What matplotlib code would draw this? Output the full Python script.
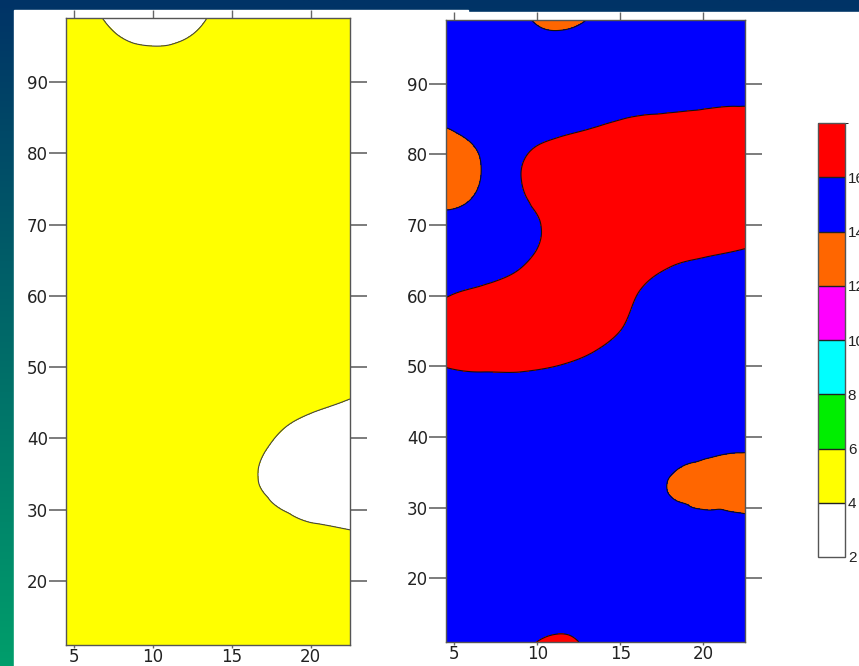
import numpy as np
import matplotlib
matplotlib.use("Agg")
import matplotlib.pyplot as plt
import matplotlib.tri as mtri
from matplotlib.colors import ListedColormap, BoundaryNorm
from matplotlib.patches import Rectangle

# grid nodes (same for both maps)
x_nodes = [4.5, 6.75, 9, 11.25, 13.5, 15.75, 18, 20.25, 22.5]
y_nodes = [11, 16.5, 22, 27.5, 33, 38.5, 44, 49.5, 55, 60.5, 66, 71.5, 77, 82.5, 88, 93.5, 99]

# left map values, rows from y=11 (bottom) to y=99 (top)
left_values = [
    [5, 5, 5, 5, 5, 5, 5, 5, 5],
    [5, 5, 5, 5, 5, 5, 5, 5, 5],
    [5, 5, 5, 5, 5, 5, 5, 5, 4.92],
    [5, 5, 5, 5, 5, 4.97, 4.48, 4.13, 3.92],
    [5, 5, 5, 5, 5, 4.41, 3.59, 3.18, 3.0],
    [5, 5, 5, 5, 5, 4.56, 3.70, 3.13, 3.0],
    [5, 5, 5, 5, 5, 5, 4.48, 4.06, 3.73],
    [5, 5, 5, 5, 5, 5, 5, 4.97, 4.64],
    [5, 5, 5, 5, 5, 5, 5, 5, 5],
    [5, 5, 5, 5, 5, 5, 5, 5, 5],
    [5, 5, 5, 5, 5, 5, 5, 5, 5],
    [5, 5, 5, 5, 5, 5, 5, 5, 5],
    [5, 5, 5, 5, 5, 5, 5, 5, 5],
    [5, 5, 5, 5, 5, 5, 5, 5, 5],
    [5, 5, 5, 5, 5, 5, 5, 5, 5],
    [5, 4.63, 4.33, 4.33, 4.67, 5, 5, 5, 5],
    [4.92, 4.02, 3.33, 3.38, 4.03, 4.95, 5, 5, 5],
]

# right map values, rows from y=11 (bottom) to y=99 (top)
right_values = [
    [15, 15, 15.6, 16.3, 15.5, 15, 15, 15, 15],
    [15, 15, 15, 15.2, 15, 15, 15, 15, 15],
    [15, 15, 15, 15, 15, 15, 15, 15, 15],
    [15, 15, 15, 15, 15, 15, 14.75, 14.5, 14.35],
    [15, 15, 15, 15, 15, 14.86, 13.92, 13.5, 13.28],
    [15, 15, 15, 15, 15, 15, 14.7, 14.4, 14.21],
    [15, 15.08, 15.07, 15, 15, 15, 15, 15, 15],
    [15.91, 16.08, 16.07, 15.87, 15.54, 15.02, 15, 15, 15],
    [16.8, 17, 17, 16.82, 16.41, 15.73, 15, 15, 15],
    [15.86, 16.21, 16.59, 17, 17, 16.13, 15.49, 15.14, 15],
    [15, 15.27, 15.7, 16.51, 17, 16.86, 16.35, 16.11, 15.86],
    [14.13, 14.59, 15.59, 16.48, 17, 17, 17, 17, 16.86],
    [13.23, 14.09, 15.99, 16.85, 17, 17, 17, 17, 17],
    [13.7, 14.38, 15.44, 15.97, 16.28, 16.5, 16.6, 16.68, 16.74],
    [14.85, 15, 15, 15.08, 15.31, 15.52, 15.6, 15.68, 15.74],
    [15, 15, 14.82, 14.64, 14.87, 15, 15, 15, 15],
    [15, 15, 14.26, 13.67, 14.23, 15, 15, 15, 15],
]

levels = [2, 4, 6, 8, 10, 12, 14, 16, 18]
level_colors = ['#ffffff', '#ffff00', '#00ee00', '#00ffff', '#ff00ff', '#ff6600', '#0000ff', '#ff0000']
x_ticks = [5, 10, 15, 20]
y_ticks = [20, 30, 40, 50, 60, 70, 80, 90]
cbar_ticks = [2, 4, 6, 8, 10, 12, 14, 16]

cmap = ListedColormap(level_colors)
norm = BoundaryNorm(levels, cmap.N)

W, H = 859, 666
fig = plt.figure(figsize=(W / 100, H / 100), dpi=100)

# slide background: gradient strip on the left, navy band on top
bg = fig.add_axes([0, 0, 1, 1], zorder=-10)
grad = np.linspace(0, 1, 256)[:, None]
top_c = np.array([0.0, 0.20, 0.40])
bot_c = np.array([0.0, 0.62, 0.42])
img = (top_c + (bot_c - top_c) * grad[..., None]) * np.ones((1, 2, 3))
bg.imshow(img, extent=(0, W, H, 0), aspect='auto')
bg.add_patch(Rectangle((14, 10), 454, H, color='white'))
bg.add_patch(Rectangle((468, 12), W, H, color='white'))
bg.set_xlim(0, W)
bg.set_ylim(H, 0)
bg.axis('off')

# regular grid split into triangles the same way in every cell
nx, ny = len(x_nodes), len(y_nodes)
tris = []
for j in range(ny - 1):
    for i in range(nx - 1):
        a = j * nx + i
        b, c, d = a + 1, a + nx, a + nx + 1
        tris.append([a, b, d])
        tris.append([a, d, c])


def draw_panel(rect, values, line_color):
    ax = fig.add_axes(rect)
    gx, gy = np.meshgrid(x_nodes, y_nodes)
    tri = mtri.Triangulation(gx.ravel(), gy.ravel(), tris)
    z = np.asarray(values, dtype=float).ravel()
    interp = mtri.CubicTriInterpolator(tri, z, kind='min_E')
    tri_f, z_f = mtri.UniformTriRefiner(tri).refine_field(z, triinterpolator=interp, subdiv=4)
    ax.tricontourf(tri_f, z_f, levels=levels, cmap=cmap, norm=norm)
    ax.tricontour(tri_f, z_f, levels=levels, colors=line_color, linewidths=0.8)

    ax.set_xlim(4.5, 22.5)
    ax.set_ylim(11, 99)
    ax.set_xticks(x_ticks)
    ax.set_yticks(y_ticks)
    ax.tick_params(axis='y', direction='out', length=12, width=1.2, color='#666666',
                   left=True, right=True, labelleft=True, labelright=False,
                   labelsize=12, labelcolor='#222222', pad=1)
    ax.tick_params(axis='x', direction='out', length=2, width=1, color='#666666',
                   labelsize=12, labelcolor='#222222', pad=0.5)
    top = ax.secondary_xaxis('top')
    top.set_xticks(x_ticks)
    top.tick_params(direction='out', length=6, width=1, color='#666666', labeltop=False)
    top.spines['top'].set_visible(False)
    for s in ax.spines.values():
        s.set_color('#555555')
        s.set_linewidth(1)
    return ax


draw_panel([66 / W, 1 - 645 / H, 284 / W, 627 / H], left_values, '#444444')
draw_panel([446 / W, 1 - 642 / H, 299 / W, 622 / H], right_values, '#111111')

# colour bar
cax = fig.add_axes([818 / W, 1 - 557 / H, 27 / W, 434 / H])
sm = plt.cm.ScalarMappable(norm=norm, cmap=cmap)
cb = fig.colorbar(sm, cax=cax, ticks=cbar_ticks, drawedges=True)
cb.outline.set_edgecolor('#555555')
cb.outline.set_linewidth(1)
cb.dividers.set_color('#222222')
cb.dividers.set_linewidth(1)
cax.tick_params(length=0, pad=2, labelsize=11, labelcolor='#222222')
for lab in cax.get_yticklabels():
    lab.set_family('Liberation Sans')

fig.savefig('out.png', dpi=100)
